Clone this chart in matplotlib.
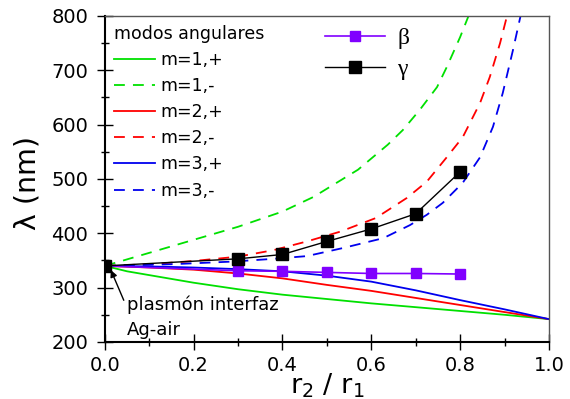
import matplotlib
matplotlib.use('Agg')
import matplotlib.pyplot as plt
from matplotlib.ticker import MultipleLocator

plt.rcParams['font.family'] = ['DejaVu Sans']

# angular modes, wavelength (nm) vs r2/r1
r_m1p = [0, 0.05, 0.1, 0.2, 0.3, 0.4, 0.5, 0.6, 0.7, 0.8, 0.9, 1.0]
l_m1p = [340, 330, 323, 309, 297, 287, 279, 271, 264, 257, 250, 242]
r_m1m = [0, 0.1, 0.2, 0.3, 0.4, 0.47, 0.57, 0.637, 0.671, 0.709, 0.748, 0.77, 0.80, 0.818, 0.83]
l_m1m = [340, 364, 388, 412, 440, 467, 517, 563, 590, 627, 669, 706, 761, 798, 825]

r_m2p = [0, 0.1, 0.2, 0.3, 0.4, 0.5, 0.6, 0.7, 0.8, 0.9, 1.0]
l_m2p = [340, 337, 333, 326, 317, 305, 294, 281, 268, 255, 242]
r_m2m = [0, 0.1, 0.2, 0.3, 0.38, 0.455, 0.53, 0.61, 0.68, 0.725, 0.77, 0.806, 0.845, 0.867, 0.89, 0.905, 0.915]
l_m2m = [340, 343, 349, 357, 369, 385, 403, 428, 465, 495, 540, 577, 640, 688, 750, 798, 830]

r_m3p = [0, 0.1, 0.2, 0.3, 0.4, 0.5, 0.6, 0.7, 0.8, 0.9, 1.0]
l_m3p = [340, 339, 337, 334, 330, 322, 311, 295, 277, 260, 242]
r_m3m = [0, 0.15, 0.29, 0.38, 0.455, 0.537, 0.627, 0.687, 0.725, 0.761, 0.806, 0.845, 0.874, 0.896, 0.919, 0.935, 0.945]
l_m3m = [340, 343, 348, 353, 358, 373, 391, 415, 434, 456, 493, 540, 596, 658, 737, 796, 830]

# beta and gamma points
r_pts = [0, 0.3, 0.4, 0.5, 0.6, 0.7, 0.8]
beta = [340, 331, 330, 328, 326, 326, 325]
gamma = [340, 353, 361, 385, 408, 436, 513]

green = '#00e000'
red = '#ff0000'
blue = '#0000ee'
violet = '#8000ff'
dash = (0, (6, 4.5))

fig = plt.figure(figsize=(5.7, 3.99), dpi=100)
ax = fig.add_axes([0.184, 0.143, 0.779, 0.817])

l1, = ax.plot(r_m1p, l_m1p, color=green, lw=1.3, label='m=1,+')
l2, = ax.plot(r_m1m, l_m1m, color=green, lw=1.3, ls=dash, label='m=1,-')
l3, = ax.plot(r_m2p, l_m2p, color=red, lw=1.3, label='m=2,+')
l4, = ax.plot(r_m2m, l_m2m, color=red, lw=1.3, ls=dash, label='m=2,-')
l5, = ax.plot(r_m3p, l_m3p, color=blue, lw=1.3, label='m=3,+')
l6, = ax.plot(r_m3m, l_m3m, color=blue, lw=1.3, ls=dash, label='m=3,-')

lb, = ax.plot(r_pts, beta, color=violet, lw=1.2, marker='s', ms=6.5, label='β')
lg, = ax.plot(r_pts, gamma, color='black', lw=1.0, marker='s', ms=9, label='γ')

ax.set_xlim(0, 1.0)
ax.set_ylim(200, 800)
ax.xaxis.set_major_locator(MultipleLocator(0.2))
ax.xaxis.set_minor_locator(MultipleLocator(0.1))
ax.yaxis.set_major_locator(MultipleLocator(100))
ax.yaxis.set_minor_locator(MultipleLocator(50))
ax.tick_params(which='major', direction='inout', length=12, width=1, labelsize=14, pad=6)
ax.tick_params(axis='x', which='major', pad=4)
ax.tick_params(which='minor', direction='inout', length=6, width=1)
ax.tick_params(top=False, right=False)
for s in ['left', 'bottom']:
    ax.spines[s].set_linewidth(1.5)
for s in ['top', 'right']:
    ax.spines[s].set_color('#555555')
    ax.spines[s].set_linewidth(1.0)

ax.set_xlabel('r$_2$ / r$_1$', fontsize=19.5, va='top')
ax.xaxis.set_label_coords(0.5, -0.092)
ax.set_ylabel('λ (nm)', fontsize=20.5)
ax.yaxis.set_label_coords(-0.142, 0.488)

leg1 = ax.legend(handles=[l1, l2, l3, l4, l5, l6], title='modos angulares',
                 loc='upper left', bbox_to_anchor=(0.0, 1.0), frameon=False,
                 fontsize=12.5, title_fontsize=12.5, handlelength=2.4,
                 handletextpad=0.3, labelspacing=0.47, borderpad=0.3,
                 borderaxespad=0.2, alignment='left')
ax.add_artist(leg1)
ax.legend(handles=[lb, lg], loc='upper left', bbox_to_anchor=(0.47, 1.0),
          frameon=False, prop={'family': 'Liberation Serif', 'size': 17},
          handlelength=2.54, handletextpad=0.5, labelspacing=0.4,
          borderpad=0.3, borderaxespad=0.2)

ax.annotate('', xy=(0.011, 337), xytext=(0.045, 272),
            arrowprops=dict(arrowstyle='-|>', color='black', lw=1, mutation_scale=10))
ax.text(0.05, 268, 'plasmón interfaz', fontsize=13, va='center')
ax.text(0.05, 222, 'Ag-air', fontsize=13, va='center')

fig.savefig('out.png', dpi=100)
